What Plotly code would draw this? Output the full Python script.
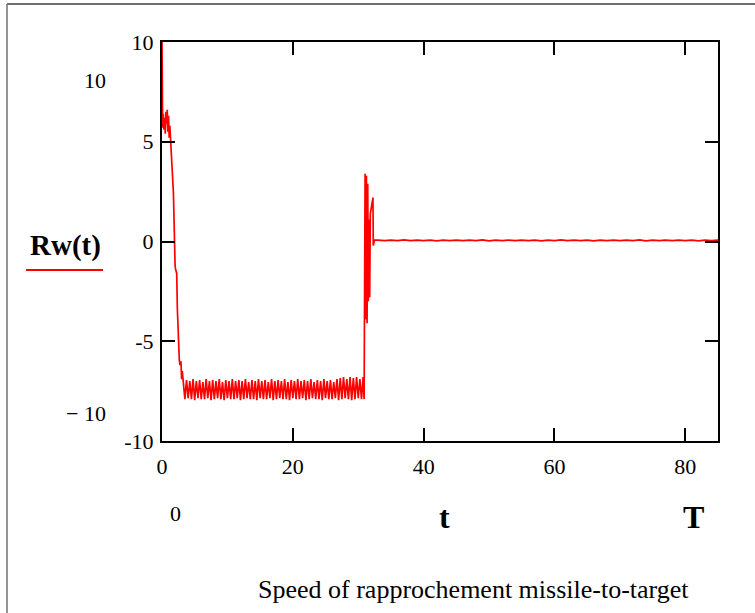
import plotly.graph_objects as go

# ---- data ----
start_t = [0, 0.02, 0.1, 0.2, 0.3, 0.4, 0.5, 0.6, 0.7, 0.8, 0.9, 1.0, 1.1, 1.2, 1.35,
           1.5, 1.75, 2.0, 2.05, 2.25, 2.35, 2.65, 2.75, 2.9, 3.0, 3.1, 3.27]
start_y = [10.0, 9.5, 5.7, 6.4, 5.6, 6.2, 5.4, 6.5, 5.9, 6.6, 5.5, 6.3, 5.2, 5.8, 4.9,
           4.3, 2.4, -1.2, -1.35, -1.6, -3.4, -5.95, -6.2, -6.0, -6.9, -6.5, -7.1]

band_t = [3.5, 3.75, 4.0, 4.25, 4.5, 4.75, 5.0, 5.25, 5.5, 5.75, 6.0, 6.25, 6.5, 6.75,
          7.0, 7.25, 7.5, 7.75, 8.0, 8.25, 8.5, 8.75, 9.0, 9.25, 9.5, 9.75, 10.0, 10.25,
          10.5, 10.75, 11.0, 11.25, 11.5, 11.75, 12.0, 12.25, 12.5, 12.75, 13.0, 13.25,
          13.5, 13.75, 14.0, 14.25, 14.5, 14.75, 15.0, 15.25, 15.5, 15.75, 16.0, 16.25,
          16.5, 16.75, 17.0, 17.25, 17.5, 17.75, 18.0, 18.25, 18.5, 18.75, 19.0, 19.25,
          19.5, 19.75, 20.0, 20.25, 20.5, 20.75, 21.0, 21.25, 21.5, 21.75, 22.0, 22.25,
          22.5, 22.75, 23.0, 23.25, 23.5, 23.75, 24.0, 24.25, 24.5, 24.75, 25.0, 25.25,
          25.5, 25.75, 26.0, 26.25, 26.5, 26.75, 27.0, 27.25, 27.5, 27.75, 28.0, 28.25,
          28.5, 28.75, 29.0, 29.25, 29.5, 29.75, 30.0, 30.25, 30.5, 30.75]
band_y = [-7.9, -6.95, -7.85, -7.0, -7.9, -6.9, -7.95, -7.0, -7.85, -6.95, -7.9, -7.05,
          -7.9, -6.9, -7.85, -7.0, -7.95, -6.95, -7.9, -7.0, -7.85, -6.9, -7.9, -7.05,
          -7.95, -6.95, -7.85, -7.0, -7.9, -6.9, -7.9, -7.0, -7.85, -6.95, -7.95, -7.0,
          -7.9, -6.9, -7.85, -7.05, -7.9, -6.95, -7.9, -7.0, -7.95, -6.9, -7.85, -7.0,
          -7.9, -6.95, -7.9, -7.05, -7.85, -6.9, -7.95, -7.0, -7.9, -6.95, -7.85, -7.0,
          -7.9, -6.9, -7.9, -7.05, -7.95, -6.95, -7.85, -7.0, -7.9, -6.9, -7.9, -7.0,
          -7.85, -6.95, -7.95, -7.0, -7.9, -6.9, -7.85, -7.05, -7.9, -6.95, -7.9, -7.0,
          -7.95, -6.9, -7.85, -7.0, -7.9, -6.95, -7.9, -7.05, -7.85, -6.9, -7.95, -6.85,
          -7.9, -6.8, -7.85, -6.9, -7.9, -6.8, -7.95, -6.85, -7.9, -6.8, -7.85, -6.9,
          -7.9, -6.8]

jump_t = [30.9, 31.05, 31.15, 31.25, 31.35, 31.45, 31.55, 31.65, 31.75, 31.85, 32.25, 32.3, 32.5]
jump_y = [-7.9, 3.4, -3.9, 3.3, -4.1, 2.9, -3.0, 1.1, -2.8, 1.4, 2.2, -0.2, 0.08]

flat_t = [33, 34, 35, 36, 37, 38, 39, 40, 41, 42, 43, 44, 45, 46, 47, 48, 49, 50, 51, 52,
          53, 54, 55, 56, 57, 58, 59, 60, 61, 62, 63, 64, 65, 66, 67, 68, 69, 70, 71, 72,
          73, 74, 75, 76, 77, 78, 79, 80, 81, 82, 83, 84, 85]
flat_y = [0.07, 0.04, 0.07, 0.04, 0.08, 0.04, 0.07, 0.04, 0.07, 0.03, 0.07, 0.04, 0.07,
          0.04, 0.07, 0.04, 0.08, 0.03, 0.07, 0.04, 0.07, 0.04, 0.07, 0.04, 0.07, 0.03,
          0.07, 0.04, 0.08, 0.04, 0.07, 0.04, 0.07, 0.03, 0.07, 0.04, 0.07, 0.04, 0.07,
          0.04, 0.08, 0.03, 0.07, 0.04, 0.07, 0.04, 0.07, 0.04, 0.07, 0.03, 0.07, 0.04, 0.07]

t_vals = start_t + band_t + jump_t + flat_t
rw_vals = start_y + band_y + jump_y + flat_y

x_ticks = [0, 20, 40, 60, 80]
y_ticks = [-10, -5, 0, 5, 10]
y_tick_text = ["-10", "-5", "0", "5", "10"]

# ---- layout geometry (page pixels; body margin is removed below) ----
W, H = 755, 613
L, R, T, B = 162, 718, 42, 441  # plot area on the page
PW, PH = R - L, B - T


def px(x):
    return (x - L) / PW


def py(y):
    return (B - y) / PH


FONT = "Liberation Serif, Times New Roman, serif"

fig = go.Figure()
fig.add_trace(go.Scatter(x=t_vals, y=rw_vals, mode="lines",
                         line=dict(color="#ff0000", width=1.7), hoverinfo="skip"))

axis_common = dict(showgrid=False, zeroline=False, showline=True, linecolor="black",
                   linewidth=2, mirror="ticks", ticks="inside", ticklen=13,
                   tickwidth=2, tickcolor="black",
                   tickfont=dict(family=FONT, size=22, color="black"))

fig.update_xaxes(range=[0, 85], tickvals=x_ticks, ticktext=[str(v) for v in x_ticks],
                 ticklabelstandoff=5, **axis_common)
fig.update_yaxes(range=[-10, 10], tickvals=y_ticks, ticktext=y_tick_text,
                 ticklabelstandoff=2, **axis_common)

annotations = [
    dict(text="10", x=px(95), y=py(80), size=22),
    dict(text="\u2212 10", x=px(86), y=py(413), size=22),
    dict(text="0", x=px(175), y=py(513), size=22),
    dict(text="<b>t</b>", x=px(444), y=py(517), size=32),
    dict(text="<b>T</b>", x=px(693), y=py(517), size=32),
    dict(text="<b>Rw(t)</b>", x=px(65), y=py(245), size=29),
    dict(text="Speed of rapprochement missile-to-target", x=px(473), y=py(589), size=26),
]
for a in annotations:
    fig.add_annotation(text=a["text"], x=a["x"], y=a["y"], xref="paper", yref="paper",
                       showarrow=False, xanchor="center", yanchor="middle",
                       font=dict(family=FONT, size=a["size"], color="black"))

shapes = [
    # legend-style red underline under Rw(t)
    dict(type="line", x0=px(26), x1=px(103), y0=py(270), y1=py(270),
         line=dict(color="#ff0000", width=2)),
    # outer frame (top and left)
    dict(type="line", x0=px(7), x1=px(760), y0=py(4), y1=py(4),
         line=dict(color="#707070", width=2)),
    dict(type="line", x0=px(7), x1=px(7), y0=py(4), y1=py(620),
         line=dict(color="#707070", width=1.5)),
]
for s in shapes:
    fig.add_shape(xref="paper", yref="paper", **s)

fig.update_layout(width=W, height=H, autosize=False,
                  margin=dict(l=L, r=W - R, t=T, b=H - B, pad=0),
                  paper_bgcolor="white", plot_bgcolor="white", showlegend=False)

fig.write_html("out.html", config={"displayModeBar": False},
               post_script="document.body.style.margin='0';document.body.style.overflow='hidden';")
